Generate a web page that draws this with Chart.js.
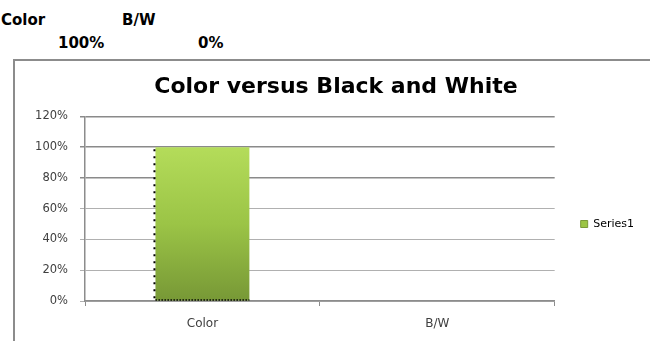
<!DOCTYPE html>
<html>
<head>
<meta charset="utf-8">
<script src="https://cdn.jsdelivr.net/npm/chart.js@4.4.1/dist/chart.umd.min.js"></script>
<style>
  html, body { margin: 0; padding: 0; background: #fff; overflow: hidden; }
  body { width: 650px; height: 341px; position: relative; }
  .cell { position: absolute; font: bold 15px "DejaVu Sans", sans-serif; color: #000; white-space: nowrap; }
  #frame {
    position: absolute; left: 13px; top: 59px; width: 640px; height: 340px;
    border-left: 2px solid #8c8c8c; border-top: 2px solid #8c8c8c;
  }
  #myChart { position: absolute; left: 0; top: 0; }
</style>
</head>
<body>
<div id="cells"></div>
<div id="frame"><canvas id="myChart" width="635" height="326"></canvas></div>
<script>
// Categories and values (fractions, shown as percent)
const categories = ['Color', 'B/W'];
const series1 = [1.0, 0];
const seriesName = 'Series1';
const yMax = 1.2;
const yStep = 0.2;

const pct = v => Math.round(v * 100) + '%';

// Worksheet cells above the chart: headers on row 1, values on row 2
const cellPos = [
  { head: [1, 11], val: [58, 34] },
  { head: [122, 11], val: [198, 34] }
];
const cells = document.getElementById('cells');
categories.forEach((c, i) => {
  const h = document.createElement('div');
  h.className = 'cell';
  h.textContent = c;
  h.style.left = cellPos[i].head[0] + 'px';
  h.style.top = cellPos[i].head[1] + 'px';
  cells.appendChild(h);
  const v = document.createElement('div');
  v.className = 'cell';
  v.textContent = pct(series1[i]);
  v.style.left = cellPos[i].val[0] + 'px';
  v.style.top = cellPos[i].val[1] + 'px';
  cells.appendChild(v);
});

Chart.defaults.font.family = '"DejaVu Sans", sans-serif';
Chart.defaults.color = '#404040';

// Green vertical gradient for the bars
function barFill(context) {
  const chart = context.chart;
  const area = chart.chartArea;
  if (!area) return '#9cc545';
  const top = chart.scales.y.getPixelForValue(1);
  const g = chart.ctx.createLinearGradient(0, top, 0, area.bottom);
  g.addColorStop(0, '#b4dc5a');
  g.addColorStop(0.5, '#9bc446');
  g.addColorStop(1, '#779836');
  return g;
}

// Dotted outline on the left and bottom edges of each bar
const dottedEdges = {
  id: 'dottedEdges',
  afterDatasetsDraw(chart) {
    const ctx = chart.ctx;
    chart.getDatasetMeta(0).data.forEach((bar, i) => {
      if (!series1[i]) return;
      const { x, y, base, width } = bar.getProps(['x', 'y', 'base', 'width'], true);
      const left = x - width / 2;
      ctx.save();
      ctx.strokeStyle = '#000';
      ctx.lineWidth = 2;
      ctx.setLineDash([2, 5]);
      ctx.beginPath();
      ctx.moveTo(left - 1, y + 2);
      ctx.lineTo(left - 1, base);
      ctx.stroke();
      ctx.lineWidth = 1.5;
      ctx.setLineDash([1.5, 1.5]);
      ctx.beginPath();
      ctx.moveTo(left, base - 0.5);
      ctx.lineTo(x + width / 2, base - 0.5);
      ctx.stroke();
      ctx.restore();
    });
  }
};

const ctx = document.getElementById('myChart').getContext('2d');
const myChart = new Chart(ctx, {
  type: 'bar',
  data: {
    labels: categories,
    datasets: [{
      label: seriesName,
      data: series1,
      backgroundColor: barFill,
      borderWidth: 0,
      barPercentage: 0.4,
      categoryPercentage: 1
    }]
  },
  options: {
    responsive: false,
    devicePixelRatio: 1,
    animation: false,
    layout: { padding: { left: 13, right: 6, top: 0, bottom: 0 } },
    plugins: {
      title: {
        display: true,
        text: 'Color versus Black and White',
        color: '#000',
        font: { size: 22, weight: 'bold' },
        padding: { top: 13, bottom: 16 }
      },
      legend: {
        position: 'right',
        labels: {
          boxWidth: 7,
          boxHeight: 7,
          padding: 26,
          color: '#404040',
          font: { size: 11 },
          generateLabels: chart => chart.data.datasets.map((ds, i) => ({
            text: ds.label,
            fillStyle: '#9cc545',
            strokeStyle: '#7a9a38',
            lineWidth: 1,
            datasetIndex: i
          }))
        }
      },
      tooltip: { enabled: false }
    },
    scales: {
      x: {
        offset: true,
        afterFit: scale => { scale.height = 86; },
        grid: {
          offset: true,
          drawOnChartArea: false,
          drawTicks: true,
          tickLength: 5,
          color: '#8c8c8c'
        },
        border: { display: true, color: '#8c8c8c', width: 1.5 },
        ticks: { padding: 11, color: '#404040', font: { size: 12 } }
      },
      y: {
        min: 0,
        max: yMax,
        afterFit: scale => { scale.width = 57; },
        grid: {
          tickLength: 5,
          color: c => (c.tick && c.tick.value >= 0.79 ? '#8a8a8a' : '#b0b0b0'),
          lineWidth: c => (c.tick && c.tick.value >= 0.79 ? 1.5 : 1)
        },
        border: { display: true, color: '#8c8c8c', width: 1.5 },
        ticks: {
          stepSize: yStep,
          padding: 12,
          color: '#404040',
          font: { size: 11.5 },
          callback: v => pct(v)
        }
      }
    }
  },
  plugins: [dottedEdges]
});
</script>
</body>
</html>
